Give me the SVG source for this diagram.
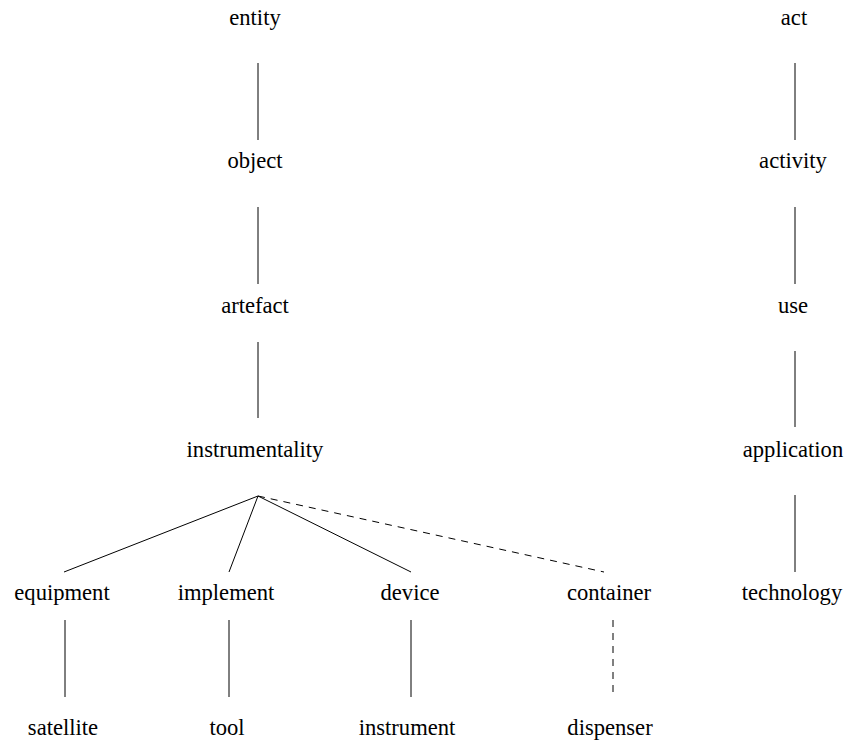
<svg xmlns="http://www.w3.org/2000/svg" width="844" height="741" viewBox="0 0 844 741">
<style>
  .t { font-family: 'Liberation Serif', serif; font-size: 22.6px; fill: #000; text-anchor: middle; }
  .e { stroke: #000; stroke-width: 1; fill: none; }
  .d { stroke-dasharray: 7 6; }
</style>
<rect width="844" height="741" fill="#fff"/>
<g id="connectors">
  <line class="e" x1="258" y1="63" x2="258" y2="140"/>
  <line class="e" x1="258" y1="207" x2="258" y2="284"/>
  <line class="e" x1="258" y1="342" x2="258" y2="418"/>
  <line class="e" x1="258" y1="496" x2="64" y2="572"/>
  <line class="e" x1="258" y1="496" x2="229" y2="572"/>
  <line class="e" x1="258" y1="496" x2="411" y2="572"/>
  <line class="e d" x1="258" y1="496" x2="604" y2="572"/>
  <line class="e" x1="65" y1="620" x2="65" y2="697"/>
  <line class="e" x1="229" y1="620" x2="229" y2="697"/>
  <line class="e" x1="411" y1="620" x2="411" y2="697"/>
  <line class="e d" x1="613" y1="620" x2="613" y2="697"/>
  <line class="e" x1="795" y1="63" x2="795" y2="140"/>
  <line class="e" x1="795" y1="207" x2="795" y2="284"/>
  <line class="e" x1="795" y1="351" x2="795" y2="427"/>
  <line class="e" x1="795" y1="495" x2="795" y2="572"/>
</g>
<g class="t" font-family="Liberation Serif, serif">
<g id="entity"><text x="255" y="25">entity</text></g>
<g id="object"><text x="255" y="168">object</text></g>
<g id="artefact"><text x="255" y="313">artefact</text></g>
<g id="instrumentality"><text x="255" y="457">instrumentality</text></g>
<g id="equipment"><text x="62" y="600">equipment</text></g>
<g id="implement"><text x="226" y="600">implement</text></g>
<g id="device"><text x="410" y="600">device</text></g>
<g id="container"><text x="609" y="600">container</text></g>
<g id="satellite"><text x="63" y="735">satellite</text></g>
<g id="tool"><text x="227" y="735">tool</text></g>
<g id="instrument"><text x="407" y="735">instrument</text></g>
<g id="dispenser"><text x="610" y="735">dispenser</text></g>
<g id="act"><text x="794" y="25">act</text></g>
<g id="activity"><text x="793" y="168">activity</text></g>
<g id="use"><text x="793" y="313">use</text></g>
<g id="application"><text x="793" y="457">application</text></g>
<g id="technology"><text x="792" y="600">technology</text></g>
</g>
</svg>
